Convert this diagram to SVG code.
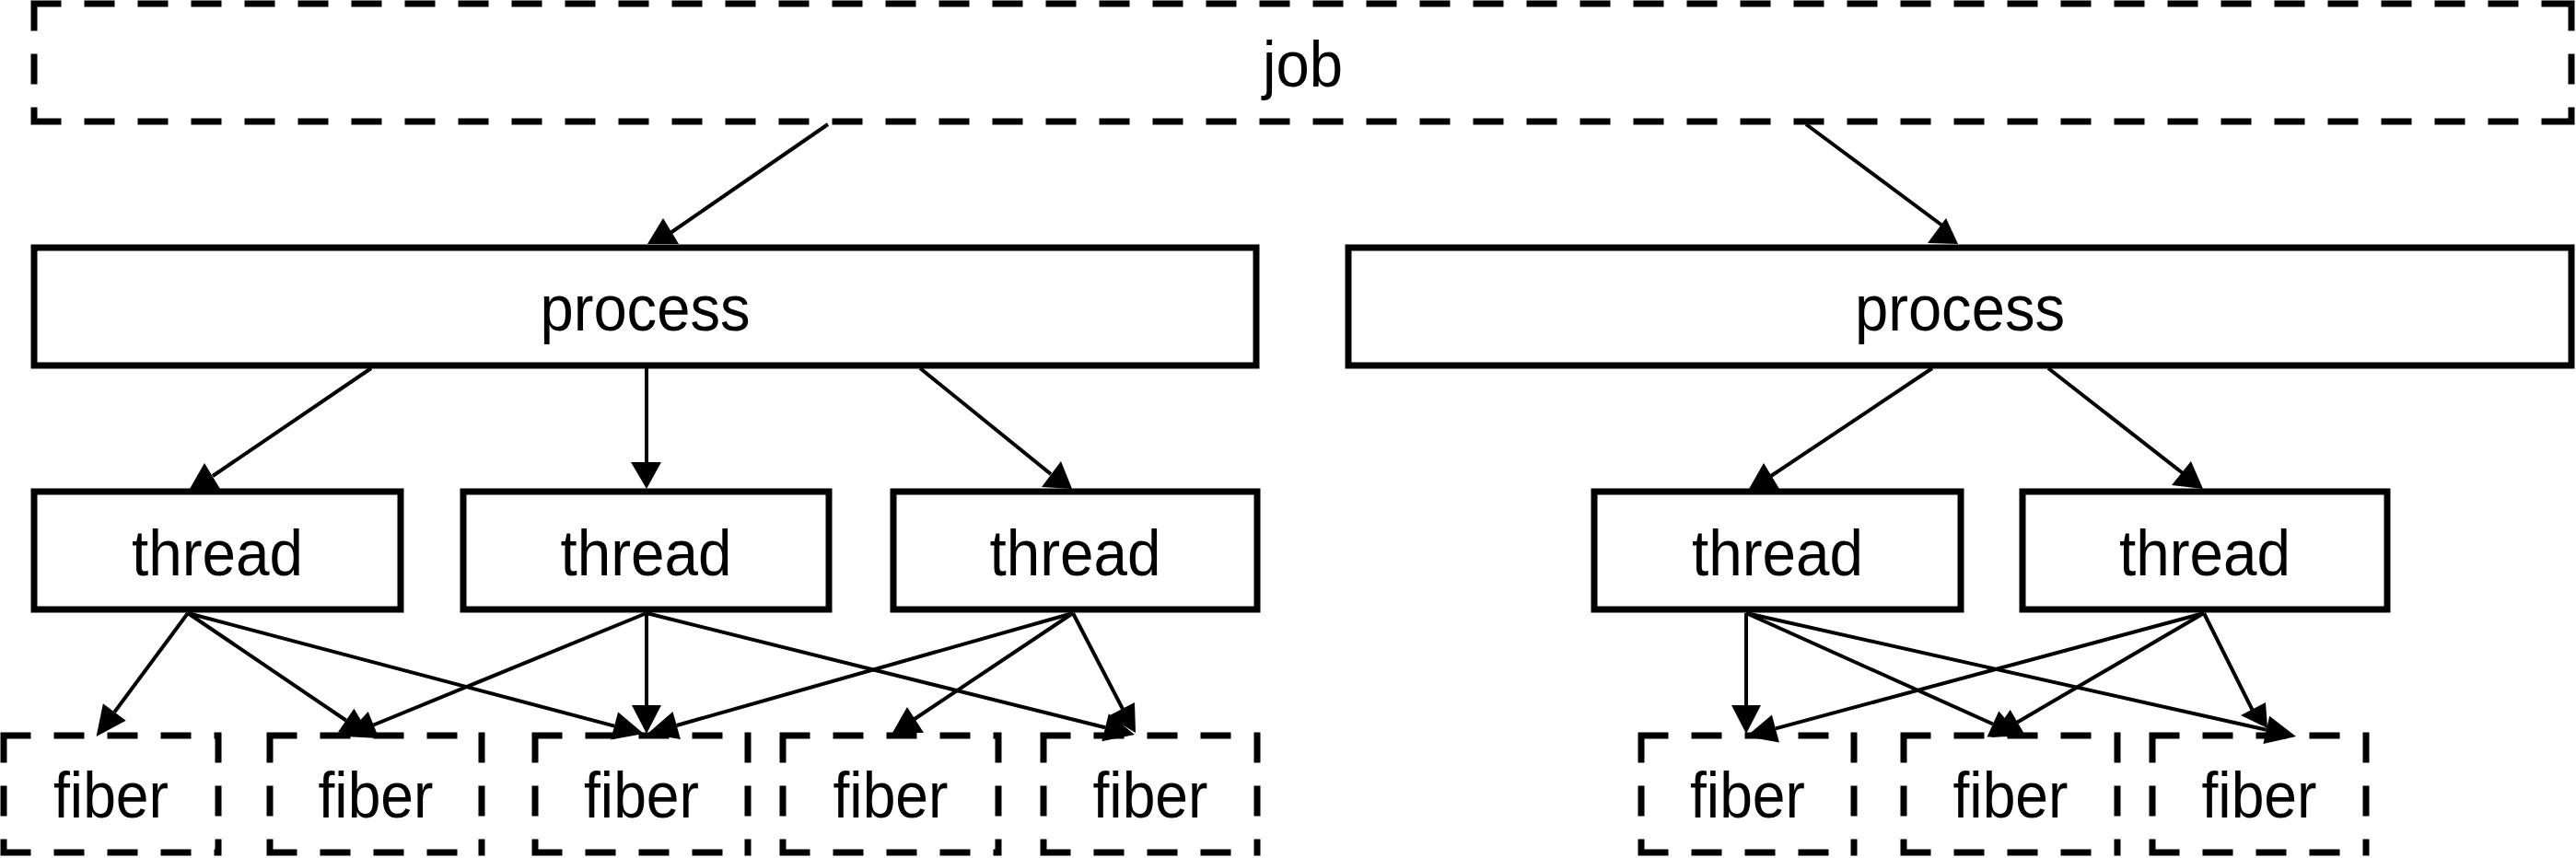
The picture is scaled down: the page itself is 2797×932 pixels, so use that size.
<svg xmlns="http://www.w3.org/2000/svg" width="2797" height="932" viewBox="0 0 2797 932">
<style>
.box{fill:#fff;stroke:#000;stroke-width:7}
.dash{fill:none;stroke:#000;stroke-width:7;stroke-dasharray:33 25}
.lbl{font-family:"Liberation Sans",Arial,Helvetica,sans-serif;font-size:70px;text-anchor:middle;fill:#000}
.edge{fill:none;stroke:#000;stroke-width:4}
.head{fill:#000;stroke:none}
</style>
<rect x="0" y="0" width="2797" height="932" fill="#fff"/>
<g id="job">
<path class="dash" d="M33.5 4H2795.5M2792 0.5V135.5M33.5 132H2795.5M37 0.5V135.5"/>
<text class="lbl" x="1414.5" y="94" textLength="87" lengthAdjust="spacingAndGlyphs">job</text>
</g>
<g id="process1">
<rect class="box" x="37" y="269" width="1327" height="128"/>
<text class="lbl" x="700.5" y="359" textLength="228" lengthAdjust="spacingAndGlyphs">process</text>
</g>
<g id="process2">
<rect class="box" x="1464" y="269" width="1328" height="128"/>
<text class="lbl" x="2128" y="359" textLength="228" lengthAdjust="spacingAndGlyphs">process</text>
</g>
<g id="thread1">
<rect class="box" x="37" y="534" width="398" height="128"/>
<text class="lbl" x="236" y="625" textLength="186" lengthAdjust="spacingAndGlyphs">thread</text>
</g>
<g id="thread2">
<rect class="box" x="503" y="534" width="397" height="128"/>
<text class="lbl" x="701.5" y="625" textLength="186" lengthAdjust="spacingAndGlyphs">thread</text>
</g>
<g id="thread3">
<rect class="box" x="970" y="534" width="395" height="128"/>
<text class="lbl" x="1167.5" y="625" textLength="186" lengthAdjust="spacingAndGlyphs">thread</text>
</g>
<g id="thread4">
<rect class="box" x="1731" y="534" width="398" height="128"/>
<text class="lbl" x="1930" y="625" textLength="186" lengthAdjust="spacingAndGlyphs">thread</text>
</g>
<g id="thread5">
<rect class="box" x="2196" y="534" width="396" height="128"/>
<text class="lbl" x="2394" y="625" textLength="186" lengthAdjust="spacingAndGlyphs">thread</text>
</g>
<g id="fiber1">
<path class="dash" d="M0.5 799H240.5M237 795.5V929.5M0.5 926H240.5M4 795.5V929.5"/>
<text class="lbl" x="120.5" y="888" textLength="125" lengthAdjust="spacingAndGlyphs">fiber</text>
</g>
<g id="fiber2">
<path class="dash" d="M289.5 799H526.5M523 795.5V929.5M289.5 926H526.5M293 795.5V929.5"/>
<text class="lbl" x="408" y="888" textLength="125" lengthAdjust="spacingAndGlyphs">fiber</text>
</g>
<g id="fiber3">
<path class="dash" d="M577.5 799H815.5M812 795.5V929.5M577.5 926H815.5M581 795.5V929.5"/>
<text class="lbl" x="696.5" y="888" textLength="125" lengthAdjust="spacingAndGlyphs">fiber</text>
</g>
<g id="fiber4">
<path class="dash" d="M846.5 799H1087.5M1084 795.5V929.5M846.5 926H1087.5M850 795.5V929.5"/>
<text class="lbl" x="967" y="888" textLength="125" lengthAdjust="spacingAndGlyphs">fiber</text>
</g>
<g id="fiber5">
<path class="dash" d="M1129.5 799H1368.5M1365 795.5V929.5M1129.5 926H1368.5M1133 795.5V929.5"/>
<text class="lbl" x="1249" y="888" textLength="125" lengthAdjust="spacingAndGlyphs">fiber</text>
</g>
<g id="fiber6">
<path class="dash" d="M1778.5 799H2016.5M2013 795.5V929.5M1778.5 926H2016.5M1782 795.5V929.5"/>
<text class="lbl" x="1897.5" y="888" textLength="125" lengthAdjust="spacingAndGlyphs">fiber</text>
</g>
<g id="fiber7">
<path class="dash" d="M2063.5 799H2302.5M2299 795.5V929.5M2063.5 926H2302.5M2067 795.5V929.5"/>
<text class="lbl" x="2183" y="888" textLength="125" lengthAdjust="spacingAndGlyphs">fiber</text>
</g>
<g id="fiber8">
<path class="dash" d="M2333.5 799H2572.5M2569 795.5V929.5M2333.5 926H2572.5M2337 795.5V929.5"/>
<text class="lbl" x="2453" y="888" textLength="125" lengthAdjust="spacingAndGlyphs">fiber</text>
</g>
<g id="connectors">
<g id="e-job-p1"><path class="edge" d="M899 135L728 253"/><polygon class="head" points="720,237 703,265 737,265"/></g>
<g id="e-job-p2"><path class="edge" d="M1961 135L2113 248"/><polygon class="head" points="2113,237 2093,264 2126,265"/></g>
<g id="e-p1-t1"><path class="edge" d="M403 400L231 517"/><polygon class="head" points="222,503 206,531 239,531"/></g>
<g id="e-p1-t2"><path class="edge" d="M702 400L702 502"/><polygon class="head" points="685,502 718,502 702,531"/></g>
<g id="e-p1-t3"><path class="edge" d="M999 400L1141 515"/><polygon class="head" points="1152,501 1131,529 1164,531"/></g>
<g id="e-p2-t4"><path class="edge" d="M2098 400L1923 517"/><polygon class="head" points="1915,503 1899,531 1932,531"/></g>
<g id="e-p2-t5"><path class="edge" d="M2224 400L2370 514"/><polygon class="head" points="2379,501 2358,527 2392,531"/></g>
<g id="e-t1-f1"><path class="edge" d="M204 666L124.3 773.5"/><polygon class="head" points="104.6,800 136.7,782.7 111.9,764.3"/></g>
<g id="e-t1-f2"><path class="edge" d="M204 666L375.7 782.5"/><polygon class="head" points="403,801 367,795.3 384.4,769.7"/></g>
<g id="e-t1-f3"><path class="edge" d="M204 666L667.1 788.6"/><polygon class="head" points="699,797 663.1,803.6 671.1,773.6"/></g>
<g id="e-t2-f2"><path class="edge" d="M702 666L405.6 787.5"/><polygon class="head" points="375,800 411.5,801.9 399.7,773.1"/></g>
<g id="e-t2-f3"><path class="edge" d="M702 666L702 766"/><polygon class="head" points="702,797 686,766 718,766"/></g>
<g id="e-t2-f5"><path class="edge" d="M702 666L1200 790.3"/><polygon class="head" points="1232,798 1196.3,805.3 1203.8,775.3"/></g>
<g id="e-t3-f3"><path class="edge" d="M1165 666L734.7 788"/><polygon class="head" points="703,797 738.9,802.9 730.5,773.1"/></g>
<g id="e-t3-f4"><path class="edge" d="M1165 666L990 783"/><polygon class="head" points="985,768 969,796 1003,796"/></g>
<g id="e-t3-f5"><path class="edge" d="M1165 666L1220 772"/><polygon class="head" points="1232,763 1233,796 1203,778"/></g>
<g id="e-t4-f6"><path class="edge" d="M1896 666L1896 766"/><polygon class="head" points="1896,797 1880,766 1912,766"/></g>
<g id="e-t4-f7"><path class="edge" d="M1896 666L2163.9 786.5"/><polygon class="head" points="2194,800 2157.5,800.6 2170.3,772.4"/></g>
<g id="e-t4-f8"><path class="edge" d="M1896 666L2460.8 792.8"/><polygon class="head" points="2493,800 2457.4,807.9 2464.2,777.7"/></g>
<g id="e-t5-f6"><path class="edge" d="M2393 666L1927.9 791.4"/><polygon class="head" points="1896,800 1931.9,806.4 1923.9,776.4"/></g>
<g id="e-t5-f7"><path class="edge" d="M2393 666L2190.5 784.4"/><polygon class="head" points="2162,801 2198.3,797.8 2182.7,771"/></g>
<g id="e-t5-f8"><path class="edge" d="M2393 666L2446 772"/><polygon class="head" points="2460,763 2433,777 2462,791"/></g>
</g>
</svg>
